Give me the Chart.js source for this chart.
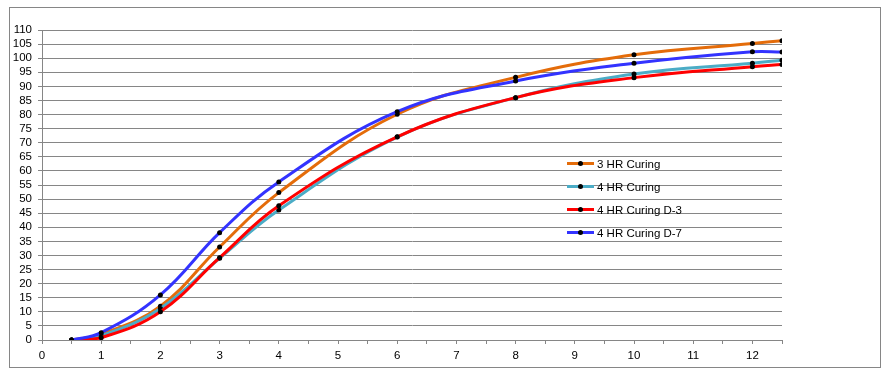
<!DOCTYPE html>
<html>
<head>
<meta charset="utf-8">
<script src="https://cdn.jsdelivr.net/npm/chart.js@4"></script>
<style>
    body { margin: 0; background: #fff; }
    #wrap { position: relative; width: 888px; height: 374px; }
    #frame { position: absolute; left: 9px; top: 7px; width: 870px; height: 359px; border: 1px solid #868686; }
    #legend { position: absolute; left: 567px; top: 152px; font-family: "Liberation Sans", sans-serif; font-size: 11.5px; color: #000; }
    #legend div { height: 23px; display: flex; align-items: center; }
    #legend span.ln { position: relative; display: inline-block; width: 27px; height: 3px; margin-right: 3px; }
    #legend span.ln::after { content: ""; position: absolute; left: 11px; top: -1px; width: 5px; height: 5px; border-radius: 50%; background: #000; }
</style>
</head>
<body>
<div id="wrap">
    <div id="frame"></div>
    <canvas id="curingChart" width="888" height="374"></canvas>
    <div id="legend"></div>
</div>
<script>
const hours = [0.5, 1, 2, 3, 4, 6, 8, 10, 12, 12.5];

const hr3Curing   = [0, 2,   12, 33,   52.3, 80.1, 93.2, 101.2, 105.2, 106.2];
const hr4Curing   = [0, 1.5, 11.2, 29, 46.1, 72,   86,   94.4,  98.2,  99.3];
const hr4CuringD3 = [0, 0.8, 10, 29.2, 47.6, 72.1, 86,   93.1,  97,    97.8];
const hr4CuringD7 = [0, 2.6, 16, 38.1, 56.1, 81,   91.9, 98.2,  102.3, 102.2];

const seriesNames = ["3 HR Curing", "4 HR Curing", "4 HR Curing D-3", "4 HR Curing D-7"];
const seriesColors = ["#E46C0A", "#4BACC6", "#FF0000", "#3333FF"];
const seriesValues = [hr3Curing, hr4Curing, hr4CuringD3, hr4CuringD7];

const gridColor = "#868686";
const tickFont = { family: "Liberation Sans", size: 11.5 };

function toPoints(values) {
    return hours.map((h, i) => ({ x: h, y: values[i] }));
}

const datasets = seriesValues.map((vals, i) => ({
    label: seriesNames[i],
    data: toPoints(vals),
    borderColor: seriesColors[i],
    borderWidth: 3,
    tension: 0.4,
    pointRadius: 2.5,
    pointBackgroundColor: "#000",
    pointBorderWidth: 0,
    order: 3 - i
}));

const ctx = document.getElementById("curingChart").getContext("2d");

new Chart(ctx, {
    type: "line",
    data: { datasets: datasets },
    options: {
        responsive: false,
        animation: false,
        layout: { padding: { top: 30, right: 106, left: 0, bottom: 0 } },
        plugins: {
            legend: { display: false },
            tooltip: { enabled: false }
        },
        scales: {
            x: {
                type: "linear",
                min: 0,
                max: 12.5,
                afterFit: s => { s.height = 34; },
                afterBuildTicks: s => {
                    const t = [];
                    for (let v = 0; v <= 12.5; v += 0.5) t.push({ value: v });
                    s.ticks = t;
                },
                ticks: {
                    autoSkip: false,
                    maxRotation: 0,
                    padding: 5,
                    color: "#000",
                    font: tickFont,
                    callback: v => Number.isInteger(v) ? v : ""
                },
                grid: { drawOnChartArea: false, color: gridColor, tickLength: 4 },
                border: { color: gridColor }
            },
            y: {
                min: 0,
                max: 110,
                afterFit: s => { s.width = 42; },
                ticks: {
                    stepSize: 5,
                    autoSkip: false,
                    padding: 6,
                    color: "#000",
                    font: tickFont
                },
                grid: { color: gridColor, tickLength: 4 },
                border: { color: gridColor }
            }
        }
    }
});

const legend = document.getElementById("legend");
seriesNames.forEach((name, i) => {
    const row = document.createElement("div");
    const ln = document.createElement("span");
    ln.className = "ln";
    ln.style.background = seriesColors[i];
    row.appendChild(ln);
    row.appendChild(document.createTextNode(name));
    legend.appendChild(row);
});
</script>
</body>
</html>
